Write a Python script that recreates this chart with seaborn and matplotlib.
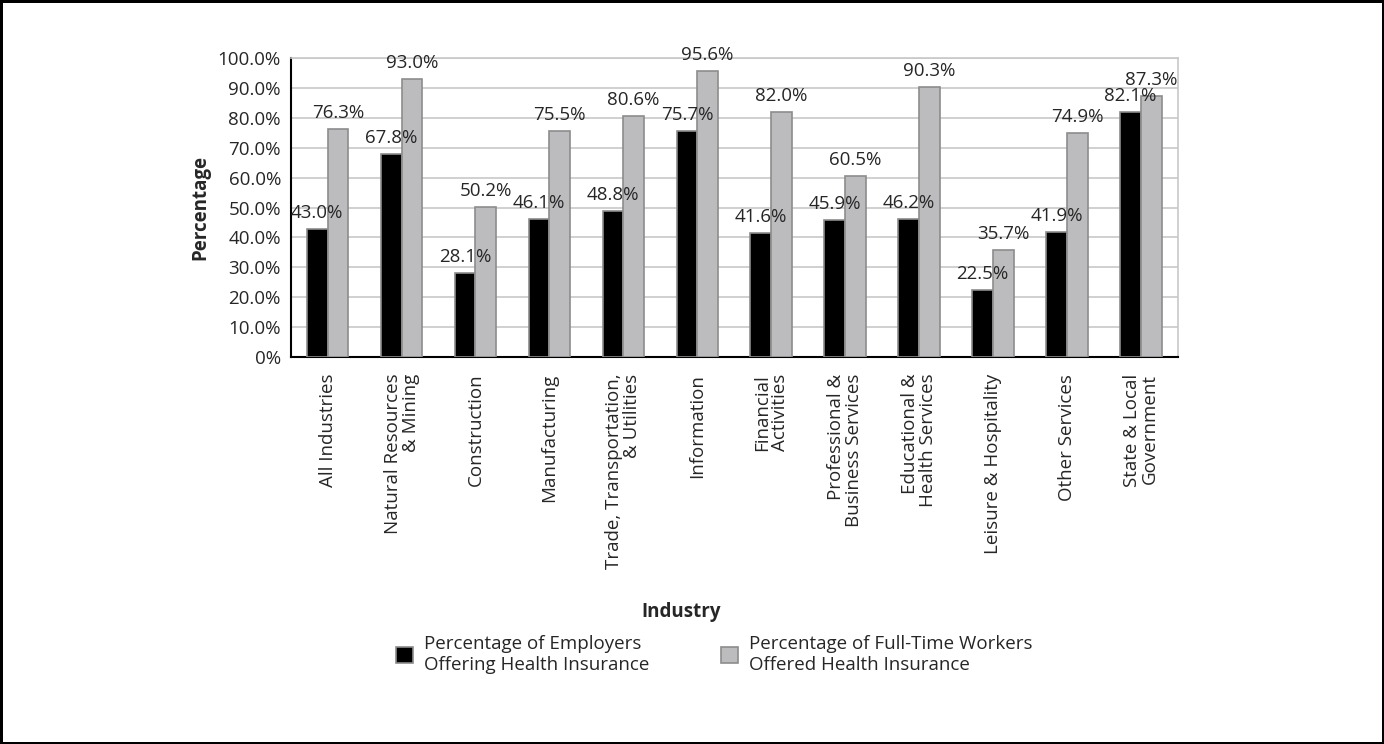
import pandas as pd
import seaborn as sns
import matplotlib.pyplot as plt
from matplotlib.ticker import MultipleLocator, FuncFormatter

# Datos
industries = ['All Industries', 'Natural Resources\n& Mining', 'Construction', 'Manufacturing',
              'Trade, Transportation,\n& Utilities', 'Information', 'Financial\nActivities',
              'Professional &\nBusiness Services', 'Educational &\nHealth Services',
              'Leisure & Hospitality', 'Other Services', 'State & Local\nGovernment']
employers = [43.0, 67.8, 28.1, 46.1, 48.8, 75.7, 41.6, 45.9, 46.2, 22.5, 41.9, 82.1]
workers = [76.3, 93.0, 50.2, 75.5, 80.6, 95.6, 82.0, 60.5, 90.3, 35.7, 74.9, 87.3]
series = ['Percentage of Employers\nOffering Health Insurance',
          'Percentage of Full-Time Workers\nOffered Health Insurance']

df = pd.DataFrame({
    'industry': industries * 2,
    'value': employers + workers,
    'serie': [series[0]] * len(industries) + [series[1]] * len(industries),
})

sns.set_style('white')
plt.rcParams['font.family'] = ['Open Sans', 'DejaVu Sans']
fs = 13.5

fig = plt.figure(figsize=(13.84, 7.44), dpi=100, linewidth=2.5, edgecolor='black')
ax = fig.add_axes([0.210, 0.520, 0.641, 0.402])

sns.barplot(data=df, x='industry', y='value', hue='serie', palette=['#000000', '#bcbcbf'],
            width=0.56, edgecolor='#8c8c8c', linewidth=1.2, ax=ax, legend=True, zorder=3)

# Etiquetas sobre las barras
for cont in ax.containers:
    ax.bar_label(cont, labels=[f'{v:.1f}%' for v in cont.datavalues], padding=5, fontsize=fs)

ax.set_ylim(0, 100)
ax.set_xlim(-0.5, len(industries) - 0.5)
ax.yaxis.set_major_locator(MultipleLocator(10))
ax.yaxis.set_major_formatter(FuncFormatter(lambda v, p: '0%' if v == 0 else f'{v:.1f}%'))
ax.grid(axis='y', color='#c8c8c8', linewidth=1.2, zorder=0)
ax.set_axisbelow(True)

# Ticks del eje x en los limites de cada grupo
ax.set_xticks(range(len(industries)))
ax.set_xticklabels(industries, rotation=90, fontsize=fs, linespacing=1.0, multialignment='right')
ax.set_xticks([i + 0.5 for i in range(-1, len(industries))], minor=True)
ax.tick_params(axis='x', which='major', length=0, pad=12)
ax.tick_params(axis='x', which='minor', length=7, width=1.2, color='black', direction='out')
ax.tick_params(axis='y', length=5, width=1.2, color='black', direction='out', labelsize=fs, pad=2)

for s in ['left', 'bottom']:
    ax.spines[s].set_color('black')
    ax.spines[s].set_linewidth(1.5)
for s in ['top', 'right']:
    ax.spines[s].set_color('#c8c8c8')
    ax.spines[s].set_linewidth(1.2)

ax.set_ylabel('Percentage', fontsize=fs, fontweight='bold', labelpad=5)
ax.set_xlabel('')
fig.text(0.4925, 0.177, 'Industry', ha='center', va='center', fontsize=fs, fontweight='bold')

handles, labels = ax.get_legend_handles_labels()
ax.get_legend().remove()
fig.legend(handles, labels, loc='center', bbox_to_anchor=(0.516, 0.12), ncol=2, frameon=False,
           fontsize=fs, handlelength=0.9, handleheight=0.9, columnspacing=3.8, handletextpad=0.6)

plt.savefig('out.png', dpi=100)
